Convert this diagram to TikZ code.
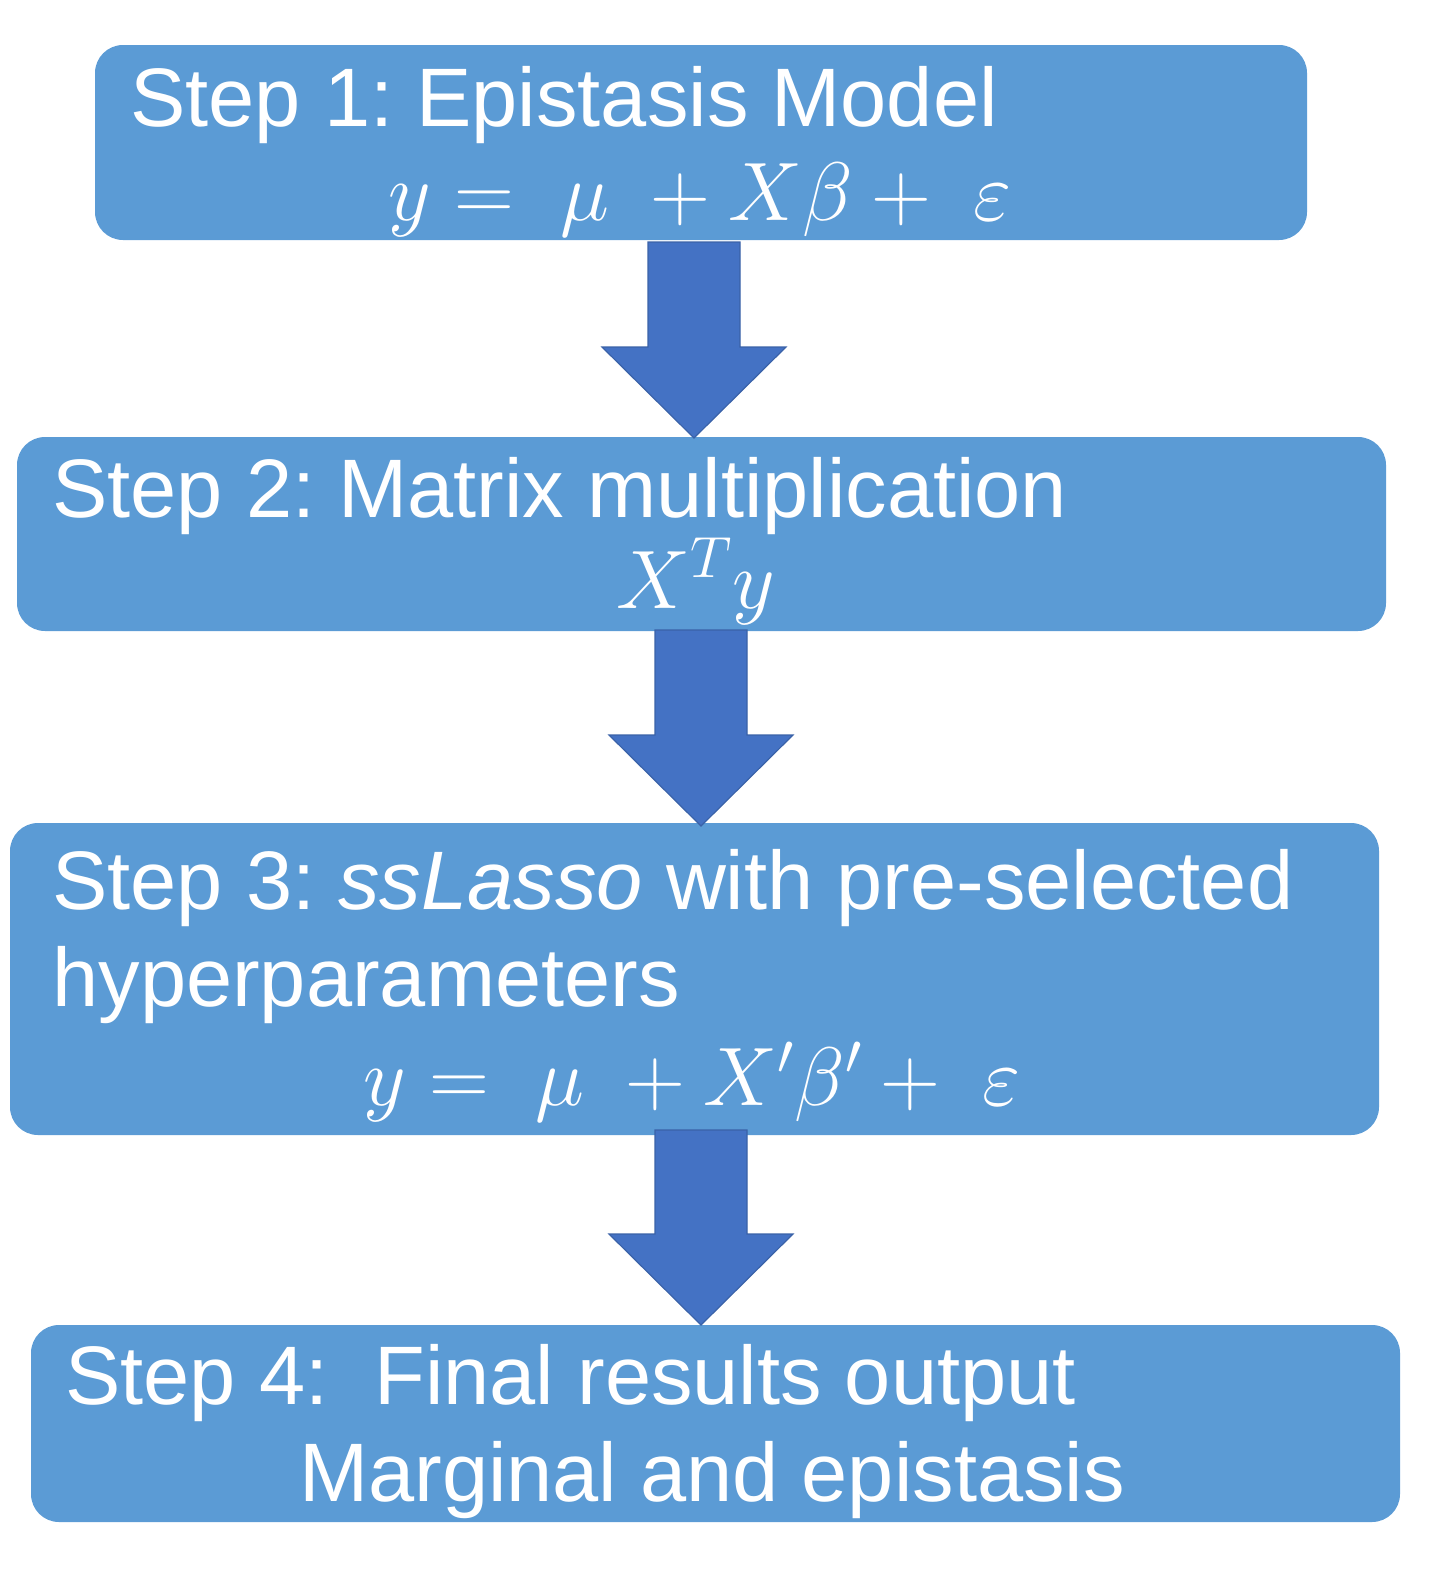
\RequirePackage{fix-cm}
\documentclass[tikz,border=0pt]{standalone}
\usepackage{fontspec}
\setmainfont{Liberation Sans}
\usetikzlibrary{calc}
\frenchspacing
\definecolor{boxblue}{HTML}{5B9BD5}
\definecolor{arrowblue}{HTML}{4472C4}
\definecolor{arrowedge}{HTML}{3A62A8}
\tikzset{
  stepbox/.style={fill=boxblue, draw=none, rounded corners=14pt, inner sep=0pt},
  steptext/.style={text=white, inner sep=0pt, font=\fontsize{41.5}{48}\selectfont},
  blockarrow/.style={fill=arrowblue, draw=arrowedge, line width=0.6pt, line join=miter}
}
\newcommand\bigarrow[2]{%
  \path[blockarrow] ($(#1)+(-46,0)$) -- ($(#1)+(46,0)$) -- ($(#2)+(46,-91)$) -- ($(#2)+(92,-91)$) -- (#2)
    -- ($(#2)+(-92,-91)$) -- ($(#2)+(-46,-91)$) -- cycle;}
\begin{document}
\begin{tikzpicture}[x=0.5pt,y=-0.5pt]
\useasboundingbox (0,0) rectangle (1431,1575);
% boxes
\node[stepbox, minimum width=606pt, minimum height=97.5pt] (b1) at (701,142.5) {};
\node[stepbox, minimum width=684.5pt, minimum height=97pt] (b2) at (701.5,534) {};
\node[stepbox, minimum width=684.5pt, minimum height=156pt] (b3) at (694.5,979) {};
\node[stepbox, minimum width=684.5pt, minimum height=98.5pt] (b4) at (715.5,1423.5) {};
% arrows
\coordinate (a1s) at (694,242);
\coordinate (a1e) at (694,438);
\coordinate (a2s) at (701,630);
\coordinate (a2e) at (701,826);
\coordinate (a3s) at (701,1130);
\coordinate (a3e) at (701,1325);
\bigarrow{a1s}{a1e}
\bigarrow{a2s}{a2e}
\bigarrow{a3s}{a3e}
% texts
\node[steptext, anchor=base west] (t1) at (130,126) {Step 1: Epistasis Model};
\node[steptext, anchor=base] (m1) at (700,220) {$y=\ \mu\ +X\beta+\ \varepsilon$};
\node[steptext, anchor=base west] (t2) at (52,517) {Step 2: Matrix multiplication};
\node[steptext, anchor=base] (m2) at (696,608) {$X^{T}y$};
\node[steptext, anchor=base west] (t3) at (52,909) {Step 3: \textit{ssLasso} with pre-selected};
\node[steptext, anchor=base west] (t3b) at (52,1006) {hyperparameters};
\node[steptext, anchor=base] (m3) at (692,1105) {$y=\ \mu\ +X'\beta'+\ \varepsilon$};
\node[steptext, anchor=base west] (t4) at (65,1404) {Step 4:\ \ Final results output};
\node[steptext, anchor=base] (t4b) at (712,1501) {Marginal and epistasis};
\end{tikzpicture}
\end{document}
